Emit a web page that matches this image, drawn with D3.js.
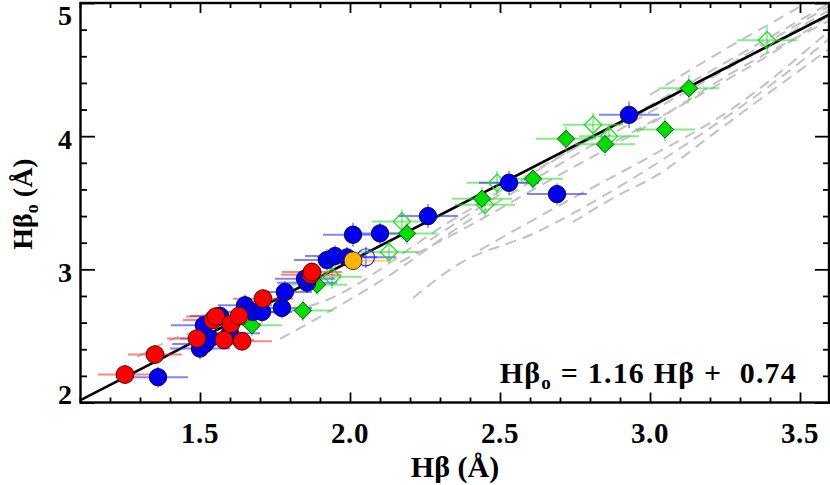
<!DOCTYPE html>
<html><head><meta charset="utf-8">
<script src="https://cdn.jsdelivr.net/npm/d3@7"></script>
<style>
body{margin:0;background:#fff;}
svg{display:block;}
text{font-family:"Liberation Serif","Times New Roman",serif;font-weight:bold;fill:#000;}
</style></head>
<body><svg id="c" width="830" height="485"></svg>
<script>
// ---------- data ----------
const xTicksMajor = [1.5, 2.0, 2.5, 3.0, 3.5];
const xTickLabels = ["1.5", "2.0", "2.5", "3.0", "3.5"];
const yTicksMajor = [2, 3, 4, 5];
const yTickLabels = ["2", "3", "4", "5"];

const blueX    = [1.36,1.50,1.517,1.533,1.513,1.567,1.60,1.65,1.677,1.707,1.773,1.783,1.857,1.85,1.923,1.95,1.99,2.01,2.10,2.26,2.53,2.69,2.93];
const blueY    = [2.19,2.405,2.44,2.48,2.58,2.65,2.52,2.73,2.68,2.68,2.71,2.83,2.90,2.93,3.07,3.10,3.09,3.26,3.27,3.40,3.65,3.565,4.16];
const blueXerr = [0.10,0.10,0.11,0.10,0.11,0.10,0.10,0.09,0.10,0.10,0.10,0.09,0.10,0.10,0.11,0.10,0.10,0.10,0.10,0.10,0.10,0.10,0.10];
const blueYerr = [0.08,0.08,0.08,0.07,0.08,0.08,0.08,0.08,0.08,0.08,0.08,0.08,0.08,0.08,0.08,0.08,0.08,0.09,0.08,0.09,0.09,0.08,0.10];

const redX    = [1.25,1.35,1.49,1.543,1.553,1.58,1.603,1.63,1.64,1.71,1.87,1.873];
const redY    = [2.21,2.36,2.48,2.62,2.645,2.47,2.59,2.65,2.46,2.78,2.96,2.98];
const redXerr = [0.09,0.09,0.10,0.10,0.10,0.10,0.10,0.10,0.10,0.10,0.10,0.10];
const redYerr = [0.07,0.07,0.07,0.07,0.07,0.07,0.07,0.07,0.07,0.07,0.07,0.07];

const greenX    = [1.673,1.843,1.89,2.19,2.44,2.61,2.72,2.85,3.05,3.13];
const greenY    = [2.58,2.69,2.885,3.27,3.53,3.68,3.98,3.94,4.05,4.36];
const greenXerr = [0.10,0.10,0.10,0.10,0.10,0.10,0.10,0.10,0.10,0.10];
const greenYerr = [0.08,0.08,0.08,0.08,0.09,0.08,0.09,0.09,0.09,0.10];

const greenOpenX    = [1.94,2.13,2.173,2.45,2.49,2.81,2.863,3.39];
const greenOpenY    = [2.945,3.13,3.36,3.485,3.65,4.085,4.00,4.72];
const greenOpenXerr = [0.10,0.10,0.10,0.10,0.10,0.10,0.10,0.10];
const greenOpenYerr = [0.09,0.08,0.09,0.09,0.09,0.09,0.09,0.10];

const blueOpenX = [2.053], blueOpenY = [3.09], blueOpenXerr = [0.10], blueOpenYerr = [0.08];
const orangeX = [2.01], orangeY = [3.065], orangeXerr = [0.12], orangeYerr = [0.07];

const fitSlope = 1.16, fitIntercept = 0.74;

const track1 = [[1.29,2.34],[1.393,2.46],[1.60,2.60],[1.923,2.77],[2.327,3.35],[2.70,3.85],[3.10,4.33],[3.433,4.76],[3.6,4.98]];
const track2 = [[1.767,2.477],[1.957,2.717],[2.143,2.972],[2.333,3.272],[2.633,3.70],[3.0,4.18],[3.367,4.645],[3.6,4.95]];
const track3 = [[2.21,2.785],[2.357,3.032],[2.623,3.28],[2.867,3.58],[3.167,4.01],[3.4,4.38],[3.6,4.735]];
const track4 = [[2.743,3.355],[2.877,3.535],[3.033,3.72],[3.183,3.97],[3.333,4.22],[3.6,4.66]];
const track5 = [[2.167,3.055],[2.40,3.33],[2.667,3.67],[2.967,4.046],[3.30,4.51],[3.6,4.87]];
const track6 = [[2.433,3.145],[2.70,3.483],[2.967,3.806],[3.267,4.196],[3.6,4.796]];
const track7 = [[2.833,3.90],[3.167,4.31],[3.433,4.66],[3.6,4.91]];
const track8 = [[3.0,4.31],[3.233,4.63],[3.467,4.93],[3.52,5.0]];
const track9 = [[2.267,3.22],[2.667,3.80],[3.133,4.40],[3.6,5.0]];
const tracks = [track1,track2,track3,track4,track5,track6,track7,track8,track9];

// ---------- chart ----------
const svg = d3.select("#c");
const x = d3.scaleLinear().domain([1.1, 3.6]).range([80, 830]);
const y = d3.scaleLinear().domain([2, 5]).range([402.5, 3]);
const [x0, x1] = x.range(), [y0, y1] = y.range();

svg.append("defs").append("clipPath").attr("id","clip")
  .append("rect").attr("x", x0).attr("y", y1).attr("width", x1 - x0).attr("height", y0 - y1);
const plot = svg.append("g").attr("clip-path","url(#clip)");

// dashed tracks
const line = d3.line().x(d => x(d[0])).y(d => y(d[1])).curve(d3.curveMonotoneX);
plot.selectAll("path.track").data(tracks).join("path")
  .attr("d", line).attr("fill","none").attr("stroke","#c2c2c2")
  .attr("stroke-width",2).attr("stroke-dasharray","11,7");

// fit line
const fx = x.domain();
plot.append("line")
  .attr("x1", x(fx[0])).attr("y1", y(fitSlope*fx[0]+fitIntercept))
  .attr("x2", x(fx[1])).attr("y2", y(fitSlope*fx[1]+fitIntercept))
  .attr("stroke","#000").attr("stroke-width",2.6);

function rows(xs, ys, xe, ye){ return xs.map((v,i)=>({x:v,y:ys[i],xe:xe[i],ye:ye[i]})); }
const blue = rows(blueX, blueY, blueXerr, blueYerr);
const red = rows(redX, redY, redXerr, redYerr);
const green = rows(greenX, greenY, greenXerr, greenYerr);
const greenOpen = rows(greenOpenX, greenOpenY, greenOpenXerr, greenOpenYerr);
const blueOpen = rows(blueOpenX, blueOpenY, blueOpenXerr, blueOpenYerr);
const orange = rows(orangeX, orangeY, orangeXerr, orangeYerr);

function errbars(data, color){
  const g = plot.append("g").attr("stroke", color).attr("stroke-opacity",0.6);
  g.selectAll("line.h").data(data).join("line")
    .attr("x1", d=>x(d.x-d.xe)).attr("x2", d=>x(d.x+d.xe))
    .attr("y1", d=>y(d.y)).attr("y2", d=>y(d.y)).attr("stroke-width",2);
  g.selectAll("line.v").data(data).join("line")
    .attr("x1", d=>x(d.x)).attr("x2", d=>x(d.x))
    .attr("y1", d=>y(d.y-d.ye)).attr("y2", d=>y(d.y+d.ye)).attr("stroke-width",1.6);
}
errbars(greenOpen, "#33e033");
errbars(green, "#33e033");
errbars(blueOpen, "#3030ff");
errbars(blue, "#3030ff");
errbars(red, "#ff3030");
errbars(orange, "#ffb000");

const diamond = d3.symbol().type(d3.symbolSquare).size(150);
function diamonds(data, fill, stroke, sw){
  plot.append("g").selectAll("path").data(data).join("path")
    .attr("d", diamond)
    .attr("transform", d=>`translate(${x(d.x)},${y(d.y)}) rotate(45)`)
    .attr("fill", fill).attr("stroke", stroke).attr("stroke-width", sw);
}
function circles(data, fill, stroke, sw, r){
  plot.append("g").selectAll("circle").data(data).join("circle")
    .attr("cx", d=>x(d.x)).attr("cy", d=>y(d.y)).attr("r", r)
    .attr("fill", fill).attr("stroke", stroke).attr("stroke-width", sw);
}
diamonds(greenOpen, "none", "#22dd22", 1.3);
diamonds(green, "#00dd00", "#114411", 0.9);
circles(blueOpen, "none", "#2a2aff", 1.2, 8.6);
circles(blue, "#0000ee", "#000033", 0.9, 8.7);
circles(red, "#ff0000", "#330000", 0.9, 8.9);
circles(orange, "#ffb400", "#332200", 0.9, 8.9);

// frame and ticks
const minorX = d3.range(11, 37).map(v=>v/10).filter(v=>!xTicksMajor.some(m=>Math.abs(m-v)<1e-6));
const minorY = d3.range(10, 26).map(v=>v/5).filter(v=>!yTicksMajor.some(m=>Math.abs(m-v)<1e-6));
const axG = svg.append("g");
function ax(axisFn, scale, vals, size, tr){
  axG.append("g").attr("transform", tr)
    .call(axisFn(scale).tickValues(vals).tickSize(size).tickFormat(""))
    .call(g=>g.select(".domain").remove())
    .call(g=>g.selectAll("line").attr("stroke","#000").attr("stroke-width",1.8));
}
ax(d3.axisBottom, x, xTicksMajor, -10, `translate(0,${y0})`);
ax(d3.axisBottom, x, minorX, -5, `translate(0,${y0})`);
ax(d3.axisTop, x, xTicksMajor, -10, `translate(0,${y1})`);
ax(d3.axisTop, x, minorX, -5, `translate(0,${y1})`);
ax(d3.axisLeft, y, yTicksMajor, -15, `translate(${x0},0)`);
ax(d3.axisLeft, y, minorY, -7, `translate(${x0},0)`);
ax(d3.axisRight, y, yTicksMajor, -15, `translate(${x1},0)`);
ax(d3.axisRight, y, minorY, -7, `translate(${x1},0)`);
svg.append("rect").attr("x", x0+0.5).attr("y", y1).attr("width", x1-x0-1.5).attr("height", y0-y1)
  .attr("fill","none").attr("stroke","#000").attr("stroke-width",2.4);

// tick labels
svg.append("g").selectAll("text").data(xTicksMajor).join("text")
  .attr("x", d=>x(d)).attr("y", 443).attr("text-anchor","middle")
  .attr("font-size", 29).attr("letter-spacing", 0.6).text((d,i)=>xTickLabels[i]);
svg.append("g").selectAll("text").data(yTicksMajor).join("text")
  .attr("x", 72).attr("y", d=>Math.min(Math.max(y(d)+13, 25), 404)).attr("text-anchor","end")
  .attr("font-size", 28).text((d,i)=>yTickLabels[i]);

// axis titles
const xt = svg.append("text").attr("x", 455).attr("y", 477).attr("text-anchor","middle").attr("font-size",30);
xt.append("tspan").text("Hβ (Å)");
const yt = svg.append("text").attr("transform","translate(32,204) rotate(-90)").attr("text-anchor","middle").attr("font-size",28);
yt.append("tspan").text("Hβ");
yt.append("tspan").attr("font-size",18).attr("dy",6).text("o");
yt.append("tspan").attr("dy",-6).text(" (Å)");

// equation
const eq = svg.append("text").attr("x", 797).attr("y", 383).attr("text-anchor","end").attr("font-size",30).attr("letter-spacing",1.2).attr("style","white-space:pre");
eq.append("tspan").text("Hβ");
eq.append("tspan").attr("font-size",19).attr("dy",6).text("o");
eq.append("tspan").attr("dy",-6).text(" = 1.16 Hβ +  0.74");
</script></body></html>
